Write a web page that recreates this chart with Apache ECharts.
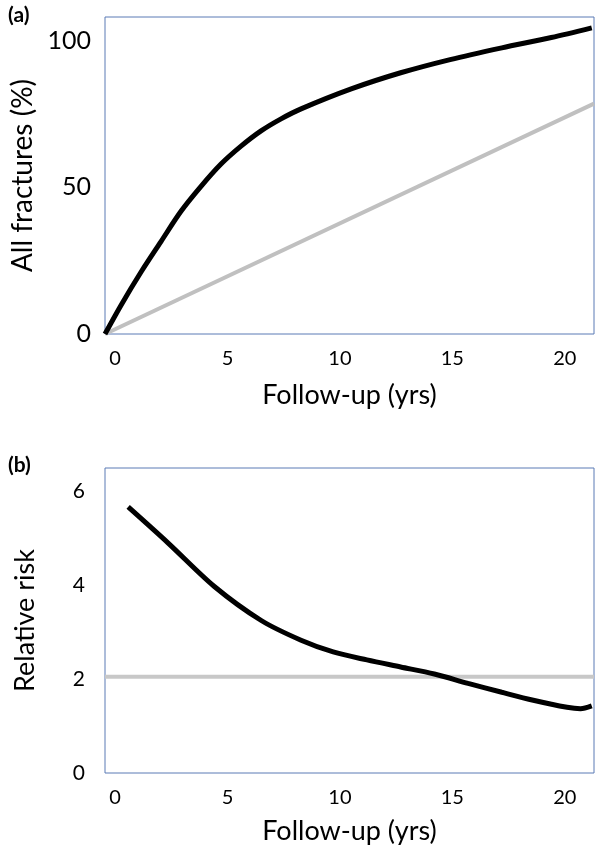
<!DOCTYPE html>
<html>
<head>
<meta charset="utf-8">
<script src="https://cdn.jsdelivr.net/npm/echarts@6/dist/echarts.min.js"></script>
<style>
  html, body { margin: 0; padding: 0; background: #fff; }
  #chart { width: 600px; height: 858px; }
</style>
</head>
<body>
<div id="chart"></div>
<script>
// Panel (a): cumulative all fractures (%)
const fracBlackX = [-0.45, 0.27, 1.16, 2.04, 2.93, 3.82, 4.71, 5.6, 6.49, 7.38, 8.27, 10.5, 12.7, 14.9, 17.2, 19.4, 21.2];
const fracBlackY = [0, 9.9, 21.2, 31.5, 41.8, 50.3, 57.9, 64, 69.2, 73.3, 76.7, 83.5, 89, 93.5, 97.5, 101, 104.3];
const fracGrayX = [-0.45, 21.3];
const fracGrayY = [0, 78.5];

// Panel (b): relative risk
const rrBlackX = [0.58, 2.36, 4.4, 6.5, 8.27, 9.7, 11.2, 12.7, 14.2, 15.7, 17.2, 18.6, 20.1, 20.7, 21.2];
const rrBlackY = [5.67, 4.9, 3.98, 3.25, 2.83, 2.58, 2.41, 2.26, 2.11, 1.91, 1.72, 1.55, 1.4, 1.37, 1.43];
const rrGrayX = [-0.45, 21.3];
const rrGrayY = [2.05, 2.05];

const xTicks = [0, 5, 10, 15, 20];
const yTicksA = [0, 50, 100];
const yTicksB = [0, 2, 4, 6];

const pair = (xs, ys) => xs.map((x, i) => [x, ys[i]]);

const FONT = 'Lato';
const BORDER = '#5a7bb5';
const chart = echarts.init(document.getElementById('chart'), null, { renderer: 'canvas' });

const xAxisBase = (gi, fs, gap) => ({
  type: 'value', gridIndex: gi, min: -0.45, max: 21.3,
  name: 'Follow-up (yrs)', nameLocation: 'middle', nameGap: gap,
  nameTextStyle: { fontFamily: FONT, fontSize: 27, color: '#000' },
  axisLine: { show: false }, axisTick: { show: false }, splitLine: { show: false },
  axisLabel: { customValues: xTicks, fontFamily: FONT, fontSize: 20, color: '#000', margin: 15 }
});

chart.setOption({
  animation: false,
  backgroundColor: '#fff',
  title: [
    { text: '(a)', left: 3, top: 0, textStyle: { fontFamily: FONT, fontSize: 21, fontWeight: 'bold', color: '#000' } },
    { text: '(b)', left: 3, top: 450, textStyle: { fontFamily: FONT, fontSize: 21, fontWeight: 'bold', color: '#000' } }
  ],
  grid: [
    { left: 105, top: 17, width: 489, height: 317, show: true, borderColor: BORDER, borderWidth: 1, backgroundColor: 'transparent' },
    { left: 105, top: 468, width: 489, height: 305, show: true, borderColor: BORDER, borderWidth: 1, backgroundColor: 'transparent' }
  ],
  xAxis: [ xAxisBase(0, 20, 48), xAxisBase(1, 20, 45) ],
  yAxis: [
    {
      type: 'value', gridIndex: 0, min: 0, max: 108,
      name: 'All fractures (%)', nameLocation: 'middle', nameGap: 62,
      nameTextStyle: { fontFamily: FONT, fontSize: 28, color: '#000' },
      axisLine: { show: false }, axisTick: { show: false }, splitLine: { show: false },
      axisLabel: { customValues: yTicksA, fontFamily: FONT, fontSize: 25, color: '#000', margin: 14 }
    },
    {
      type: 'value', gridIndex: 1, min: 0, max: 6.5,
      name: 'Relative risk', nameLocation: 'middle', nameGap: 66,
      nameTextStyle: { fontFamily: FONT, fontSize: 27, color: '#000' },
      axisLine: { show: false }, axisTick: { show: false }, splitLine: { show: false },
      axisLabel: { customValues: yTicksB, fontFamily: FONT, fontSize: 21, color: '#000', margin: 20 }
    }
  ],
  series: [
    { type: 'line', xAxisIndex: 0, yAxisIndex: 0, data: pair(fracGrayX, fracGrayY), showSymbol: false, lineStyle: { color: '#c0c0c0', width: 4 } },
    { type: 'line', xAxisIndex: 0, yAxisIndex: 0, data: pair(fracBlackX, fracBlackY), showSymbol: false, smooth: 0.3, lineStyle: { color: '#000', width: 5 } },
    { type: 'line', xAxisIndex: 1, yAxisIndex: 1, data: pair(rrGrayX, rrGrayY), showSymbol: false, lineStyle: { color: '#c8c8c8', width: 4 } },
    { type: 'line', xAxisIndex: 1, yAxisIndex: 1, data: pair(rrBlackX, rrBlackY), showSymbol: false, smooth: 0.3, lineStyle: { color: '#000', width: 5 } }
  ]
});
</script>
</body>
</html>
